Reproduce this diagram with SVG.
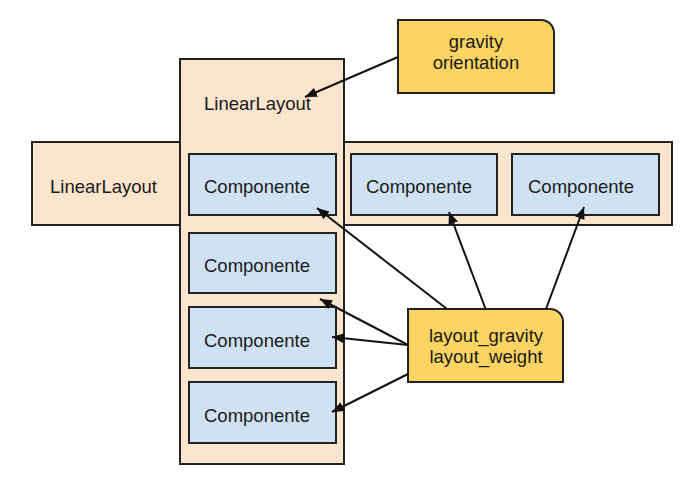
<svg xmlns="http://www.w3.org/2000/svg" width="700" height="490" viewBox="0 0 700 490">
<defs>
<style>
.layout{fill:#fce5cd;stroke:#222;stroke-width:2}
.comp{fill:#cfe2f3;stroke:#222;stroke-width:2}
.note{fill:#fcd462;stroke:#222;stroke-width:2}
text{font-family:"Liberation Sans",Arial,sans-serif;font-size:18.5px;fill:#1a1a1a}
.c{text-anchor:middle}
.conn line{stroke:#111;stroke-width:2;marker-end:url(#ah)}
</style>
<marker id="ah" markerUnits="userSpaceOnUse" markerWidth="14" markerHeight="12" refX="12" refY="5" orient="auto">
<path d="M0,0 L12,5 L0,10 Z" fill="#111"/>
</marker>
</defs>
<rect width="700" height="490" fill="#fff"/>
<g id="hlayout">
<rect class="layout" x="32" y="142" width="640" height="83"/>
<text x="50" y="193">LinearLayout</text>
</g>
<g id="vlayout">
<rect class="layout" x="180" y="59" width="164" height="405"/>
<text x="204" y="110">LinearLayout</text>
</g>
<g id="comp-v1"><rect class="comp" x="189" y="154" width="147" height="61"/><text x="204" y="193">Componente</text></g>
<g id="comp-v2"><rect class="comp" x="189" y="233" width="147" height="60"/><text x="204" y="272">Componente</text></g>
<g id="comp-v3"><rect class="comp" x="189" y="307" width="147" height="61"/><text x="204" y="347">Componente</text></g>
<g id="comp-v4"><rect class="comp" x="189" y="382" width="147" height="61"/><text x="204" y="422">Componente</text></g>
<g id="comp-h1"><rect class="comp" x="351" y="154" width="146" height="61"/><text x="366" y="193">Componente</text></g>
<g id="comp-h2"><rect class="comp" x="512" y="154" width="147" height="61"/><text x="528" y="193">Componente</text></g>
<g id="note-gravity">
<path class="note" d="M398,20 H541 A13,13 0 0 1 554,33 V93 H398 Z"/>
<text class="c" x="476" y="48">gravity</text>
<text class="c" x="476" y="69">orientation</text>
</g>
<g id="note-layout">
<path class="note" d="M408,309 H550 A13,13 0 0 1 563,322 V382 H408 Z"/>
<text class="c" x="486" y="342">layout_gravity</text>
<text class="c" x="486" y="363">layout_weight</text>
</g>
<g class="conn" id="connectors">
<line x1="398" y1="57" x2="305" y2="97"/>
<line x1="447" y1="309" x2="317" y2="208"/>
<line x1="486" y1="310" x2="449" y2="212"/>
<line x1="546" y1="309" x2="584" y2="207"/>
<line x1="408" y1="345" x2="320" y2="299"/>
<line x1="408" y1="345" x2="332" y2="337"/>
<line x1="408" y1="374" x2="332" y2="412"/>
</g>
</svg>
